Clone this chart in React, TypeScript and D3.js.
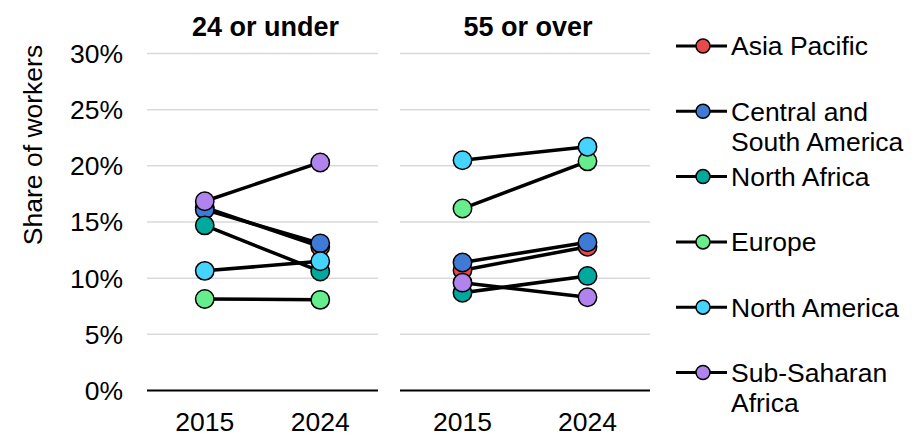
import React from "react";
import * as d3 from "d3";

const regions = [
  "Asia Pacific",
  "Central and South America",
  "North Africa",
  "Europe",
  "North America",
  "Sub-Saharan Africa",
];
const legendLines = [
  ["Asia Pacific"],
  ["Central and", "South America"],
  ["North Africa"],
  ["Europe"],
  ["North America"],
  ["Sub-Saharan", "Africa"],
];
const colors = ["#E8494A", "#3F7BD6", "#00A99D", "#66EE8E", "#45D3FF", "#B084EC"];
const years = ["2015", "2024"];
const panels = ["24 or under", "55 or over"];
// values in % : [region] for each year
const young2015 = [16.3, 16.1, 14.7, 8.15, 10.65, 16.85];
const young2024 = [12.8, 13.1, 10.6, 8.07, 11.5, 20.3];
const old2015 = [10.7, 11.4, 8.7, 16.2, 20.5, 9.6];
const old2024 = [12.8, 13.2, 10.2, 20.4, 21.7, 8.3];
const yTicks = [0, 5, 10, 15, 20, 25, 30];

const panelData = [
  [young2015, young2024],
  [old2015, old2024],
];

const FONT = "Arial, 'Liberation Sans', sans-serif";
const FS = 26.5;

export default function App() {
  const W = 912;
  const H = 437;
  const y = d3.scaleLinear().domain([0, 30]).range([390.5, 53.5]);
  const panelRanges: [number, number][] = [
    [147, 378],
    [400, 650],
  ];
  const xScales = panelRanges.map((r) =>
    d3.scaleBand<string>().domain(years).range(r)
  );
  const line = d3
    .line<[number, number]>()
    .x((d) => d[0])
    .y((d) => d[1]);

  return (
    <svg
      width={W}
      height={H}
      style={{ position: "absolute", left: 0, top: 0, fontFamily: FONT }}
    >
      <rect width={W} height={H} fill="#fff" />
      <text
        transform={`translate(41.5,145) rotate(-90)`}
        textAnchor="middle"
        fontSize={FS}
        fill="#000"
      >
        Share of workers
      </text>
      {yTicks.map((t) => (
        <text
          key={t}
          x={123}
          y={y(t) + 9.4}
          textAnchor="end"
          fontSize={FS}
          fill="#000"
        >
          {t}%
        </text>
      ))}
      {panels.map((p, pi) => {
        const x = xScales[pi];
        const [r0, r1] = panelRanges[pi];
        const cx = (yr: string) => (x(yr) as number) + x.bandwidth() / 2;
        return (
          <g key={p}>
            {yTicks
              .filter((t) => t > 0)
              .map((t) => (
                <line
                  key={t}
                  x1={r0}
                  x2={r1}
                  y1={y(t)}
                  y2={y(t)}
                  stroke="#d9d9d9"
                  strokeWidth={1.5}
                />
              ))}
            <line
              x1={r0}
              x2={r1}
              y1={y(0)}
              y2={y(0)}
              stroke="#000"
              strokeWidth={2}
            />
            <text
              x={(r0 + r1) / 2 + 3}
              y={36}
              textAnchor="middle"
              fontSize={27}
              fontWeight="bold"
              fill="#000"
            >
              {p}
            </text>
            {years.map((yr) => (
              <text
                key={yr}
                x={cx(yr)}
                y={431}
                textAnchor="middle"
                fontSize={FS}
                fill="#000"
              >
                {yr}
              </text>
            ))}
            {regions.map((rg, ri) => {
              const pts: [number, number][] = years.map((yr, yi) => [
                cx(yr),
                y(panelData[pi][yi][ri]),
              ]);
              return (
                <g key={rg}>
                  <path
                    d={line(pts) || ""}
                    fill="none"
                    stroke="#000"
                    strokeWidth={3.5}
                  />
                  {pts.map((pt, k) => (
                    <circle
                      key={k}
                      cx={pt[0]}
                      cy={pt[1]}
                      r={9.2}
                      fill={colors[ri]}
                      stroke="#000"
                      strokeWidth={1.5}
                    />
                  ))}
                </g>
              );
            })}
          </g>
        );
      })}
      {regions.map((rg, ri) => {
        const ly = 46 + ri * 65.3;
        return (
          <g key={rg}>
            <line
              x1={676}
              x2={727}
              y1={ly}
              y2={ly}
              stroke="#000"
              strokeWidth={3}
            />
            <circle
              cx={703}
              cy={ly}
              r={7}
              fill={colors[ri]}
              stroke="#000"
              strokeWidth={1.5}
            />
            {legendLines[ri].map((tx, li) => (
              <text
                key={li}
                x={731}
                y={ly + 9.4 + li * 30}
                fontSize={FS}
                fill="#000"
              >
                {tx}
              </text>
            ))}
          </g>
        );
      })}
    </svg>
  );
}
